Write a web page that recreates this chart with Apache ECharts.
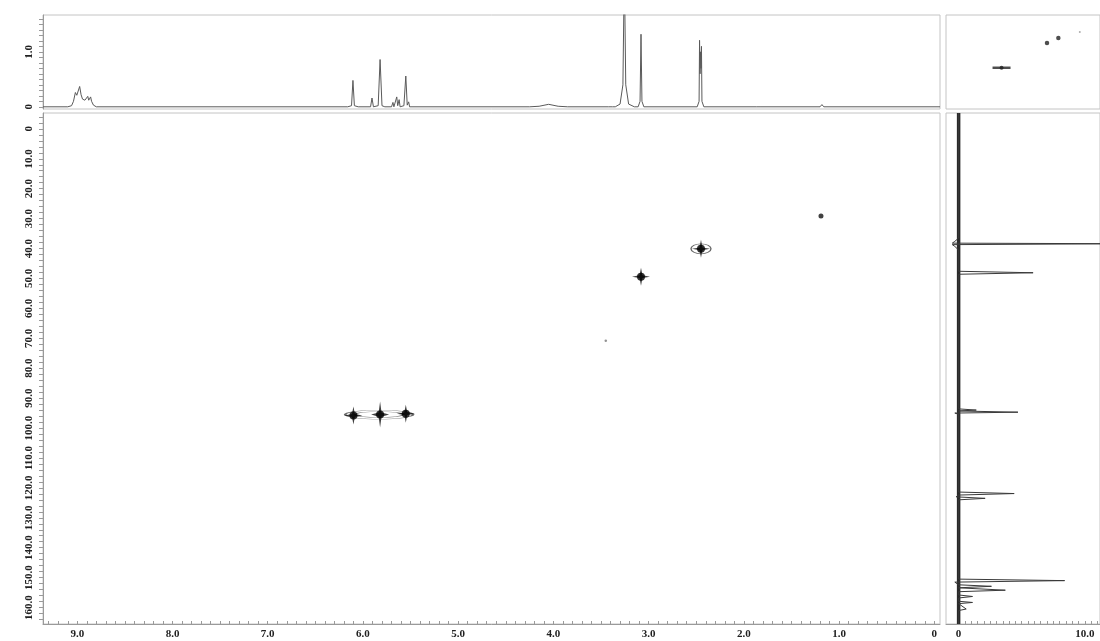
<!DOCTYPE html>
<html>
<head>
<meta charset="utf-8">
<script src="https://cdn.jsdelivr.net/npm/echarts@6/dist/echarts.min.js"></script>
<style>
html,body{margin:0;padding:0;background:#fff;}
#chart{width:1100px;height:641px;}
</style>
</head>
<body>
<div id="chart"></div>
<script>
// ---- tick labels ----
const H_TICKS = [9, 8, 7, 6, 5, 4, 3, 2, 1, 0];
const C_TICKS = [0, 10, 20, 30, 40, 50, 60, 70, 80, 90, 100, 110, 120, 130, 140, 150, 160];
const TOP_TICKS = [0, 1];
const PROJ_TICKS = [0, 10];

// ---- 1H projection trace [ppm, intensity] ----
const protonTrace = [
  [9.36,0],[9.10,0],[9.06,0.02],[9.04,0.10],[9.02,0.26],[9.005,0.21],[8.99,0.24],[8.975,0.37],[8.96,0.22],
  [8.945,0.14],[8.935,0.17],[8.92,0.12],[8.905,0.14],[8.89,0.19],[8.88,0.12],[8.87,0.10],[8.86,0.18],
  [8.85,0.10],[8.83,0.03],[8.80,0],
  [6.16,0],[6.12,0.02],[6.105,0.48],[6.09,0.02],[6.05,0],
  [5.92,0],[5.905,0.16],[5.89,0],
  [5.84,0.02],[5.82,0.86],[5.80,0.02],[5.77,0],
  [5.70,0],[5.685,0.08],[5.675,0],[5.645,0.18],[5.635,0.02],[5.62,0.13],[5.61,0],
  [5.57,0.02],[5.55,0.56],[5.535,0.03],[5.52,0.09],[5.51,0],
  [4.25,0],[4.15,0.01],[4.05,0.045],[3.95,0.01],[3.85,0],
  [3.42,0],[3.40,0.025],[3.38,0],
  [3.35,0],[3.30,0.05],[3.27,0.4],[3.255,2.5],[3.24,0.4],[3.21,0.05],[3.15,0],
  [3.11,0],[3.09,0.1],[3.08,1.32],[3.07,0.1],[3.05,0],
  [2.49,0],[2.47,0.1],[2.465,1.21],[2.46,0.6],[2.455,1.0],[2.45,0.7],[2.445,1.1],[2.44,0.1],[2.42,0],
  [1.87,0],[1.85,0.03],[1.83,0],
  [1.20,0],[1.18,0.04],[1.16,0],
  [-0.06,0]
];

// ---- 13C projection trace [intensity, ppm] ----
const carbonTrace = [
  [0,-5.3],[0,36.5],[-0.3,37.6],[-0.5,38.2],[13,38.4],[-0.5,38.7],[-0.3,39.3],[0,40.5],
  [0,47.6],[5.9,48.1],[0,48.6],
  [0,93.6],[1.4,94.0],[0,94.3],[4.7,94.7],[-0.3,95.0],[0,95.4],
  [0,121.4],[4.4,121.9],[0,122.4],[-0.2,123.0],[2.1,123.5],[0,124.0],
  [0,150.5],[8.4,151.0],[-0.3,151.5],[0,152.4],[2.6,152.9],[0,153.4],[3.7,154.2],[0,154.7],
  [0,155.8],[1.1,156.3],[0,156.8],[0,157.9],[1.1,158.3],[0,158.7],[0.6,160.5],[0,161],[0,165.5]
];
const carbonBaseline = [[0,-5.3],[0,165.5]];

// ---- 2D cross peaks [1H ppm, 13C ppm] ----
const crossPeaks = [[6.10,95.8],[5.55,95.2],[3.08,49.4],[2.45,40.1]];
const tallPeaks = [[5.82,95.5]];
const clusterContour = [[5.83,95.5]];
const ringContour = [[2.45,40.1]];
const weakPeaks = [[1.19,29.1]];
const traceDots = [[3.45,70.8]];

// ---- corner panel marks [x, y] ----
const cornerDash = [[3.4,0.71]];
const cornerDots = [[7.0,1.16],[7.9,1.25]];
const cornerFaint = [[9.6,1.36]];

function range(a, b, s) { const r = []; for (let v = a; v <= b + 1e-9; v += s) r.push(+v.toFixed(3)); return r; }

const labelFont = { fontFamily: 'Liberation Serif', fontWeight: 'bold', color: '#222' };
const axisGray = '#9a9a9a';
const STAR = 'path://M0,-10 L1.6,-1.6 L10,0 L1.6,1.6 L0,10 L-1.6,1.6 L-10,0 L-1.6,-1.6 Z';

const chart = echarts.init(document.getElementById('chart'), null, { renderer: 'canvas' });
chart.setOption({
  animation: false,
  backgroundColor: '#ffffff',
  grid: [
    { left: 43, top: 15, width: 897, height: 94, show: true, borderColor: '#c4c4c4', borderWidth: 1 },
    { left: 43, top: 113, width: 897, height: 511, show: true, borderColor: '#c4c4c4', borderWidth: 1 },
    { left: 946, top: 113, width: 160, height: 511, show: true, borderColor: '#c4c4c4', borderWidth: 1 },
    { left: 946, top: 15, width: 160, height: 94, show: true, borderColor: '#c4c4c4', borderWidth: 1 }
  ],
  xAxis: [
    { gridIndex: 0, type: 'value', inverse: true, min: -0.06, max: 9.36,
      axisLine: { show: false }, axisTick: { show: false }, axisLabel: { show: false }, splitLine: { show: false } },
    { gridIndex: 1, type: 'value', inverse: true, min: -0.06, max: 9.36, position: 'bottom',
      axisLine: { show: true, onZero: false, lineStyle: { color: axisGray } },
      axisTick: { show: true, inside: true, length: 3, customValues: range(0, 9.3, 0.1), lineStyle: { color: axisGray } },
      axisLabel: { customValues: H_TICKS, margin: 5, fontSize: 11, ...labelFont,
        formatter: v => (v === 0 ? '0' : v.toFixed(1)) },
      splitLine: { show: false } },
    { gridIndex: 2, type: 'value', min: -1.0, max: 11.2, position: 'bottom',
      axisLine: { show: true, onZero: false, lineStyle: { color: axisGray } },
      axisTick: { show: true, inside: true, length: 3, customValues: range(0, 11, 0.5), lineStyle: { color: axisGray } },
      axisLabel: { customValues: PROJ_TICKS, margin: 5, fontSize: 11, ...labelFont,
        formatter: v => (v === 0 ? '0' : v.toFixed(1)) },
      splitLine: { show: false } },
    { gridIndex: 3, type: 'value', min: -1.0, max: 11.2, show: false }
  ],
  yAxis: [
    { gridIndex: 0, type: 'value', min: -0.04, max: 1.67,
      axisLine: { show: true, onZero: false, lineStyle: { color: axisGray } },
      axisTick: { show: true, length: 4, customValues: range(0, 1.6, 0.1), lineStyle: { color: axisGray } },
      axisLabel: { customValues: TOP_TICKS, rotate: 90, margin: 8, fontSize: 11, ...labelFont,
        formatter: v => (v === 0 ? '0' : v.toFixed(1)) },
      splitLine: { show: false } },
    { gridIndex: 1, type: 'value', inverse: true, min: -5.3, max: 165.5,
      axisLine: { show: true, onZero: false, lineStyle: { color: axisGray } },
      axisTick: { show: true, length: 4, customValues: range(-4, 164, 2), lineStyle: { color: axisGray } },
      axisLabel: { customValues: C_TICKS, rotate: 90, margin: 8, fontSize: 11, ...labelFont,
        formatter: v => (v === 0 ? '0' : v.toFixed(1)) },
      splitLine: { show: false } },
    { gridIndex: 2, type: 'value', inverse: true, min: -5.3, max: 165.5, show: false },
    { gridIndex: 3, type: 'value', min: -0.04, max: 1.67, show: false }
  ],
  series: [
    { type: 'line', xAxisIndex: 0, yAxisIndex: 0, data: protonTrace, showSymbol: false, clip: true,
      lineStyle: { color: '#5a5a5a', width: 1 } },
    { type: 'line', xAxisIndex: 2, yAxisIndex: 2, data: carbonBaseline, showSymbol: false, clip: true,
      lineStyle: { color: '#2a2a2a', width: 3.5 } },
    { type: 'line', xAxisIndex: 2, yAxisIndex: 2, data: carbonTrace, showSymbol: false, clip: true,
      lineStyle: { color: '#3a3a3a', width: 1 } },
    // 2D contours
    { type: 'scatter', xAxisIndex: 1, yAxisIndex: 1, data: clusterContour, symbol: 'circle', symbolSize: [68, 9],
      itemStyle: { color: 'rgba(0,0,0,0)', borderColor: '#444', borderWidth: 1 } },
    { type: 'scatter', xAxisIndex: 1, yAxisIndex: 1, data: clusterContour, symbol: 'circle', symbolSize: [48, 6],
      itemStyle: { color: 'rgba(0,0,0,0)', borderColor: '#555', borderWidth: 1 } },
    { type: 'scatter', xAxisIndex: 1, yAxisIndex: 1, data: ringContour, symbol: 'circle', symbolSize: [20, 10],
      itemStyle: { color: 'rgba(0,0,0,0)', borderColor: '#444', borderWidth: 1 } },
    { type: 'scatter', xAxisIndex: 1, yAxisIndex: 1, data: crossPeaks, symbol: STAR, symbolSize: 18,
      itemStyle: { color: '#111' } },
    { type: 'scatter', xAxisIndex: 1, yAxisIndex: 1, data: tallPeaks, symbol: STAR, symbolSize: [18, 26],
      itemStyle: { color: '#111' } },
    { type: 'scatter', xAxisIndex: 1, yAxisIndex: 1, data: crossPeaks.concat(tallPeaks), symbol: 'circle', symbolSize: 8,
      itemStyle: { color: '#000' } },
    { type: 'scatter', xAxisIndex: 1, yAxisIndex: 1, data: weakPeaks, symbol: 'circle', symbolSize: 5,
      itemStyle: { color: '#111' } },
    { type: 'scatter', xAxisIndex: 1, yAxisIndex: 1, data: traceDots, symbol: 'circle', symbolSize: 2.5,
      itemStyle: { color: '#777' } },
    // corner panel
    { type: 'scatter', xAxisIndex: 3, yAxisIndex: 3, data: cornerDash, symbol: 'rect', symbolSize: [18, 2.5],
      itemStyle: { color: '#222' } },
    { type: 'scatter', xAxisIndex: 3, yAxisIndex: 3, data: cornerDash, symbol: 'circle', symbolSize: 4,
      itemStyle: { color: '#222' } },
    { type: 'scatter', xAxisIndex: 3, yAxisIndex: 3, data: cornerDots, symbol: 'circle', symbolSize: 4.5,
      itemStyle: { color: '#222' } },
    { type: 'scatter', xAxisIndex: 3, yAxisIndex: 3, data: cornerFaint, symbol: 'circle', symbolSize: 2,
      itemStyle: { color: '#999' } }
  ]
});
</script>
</body>
</html>
